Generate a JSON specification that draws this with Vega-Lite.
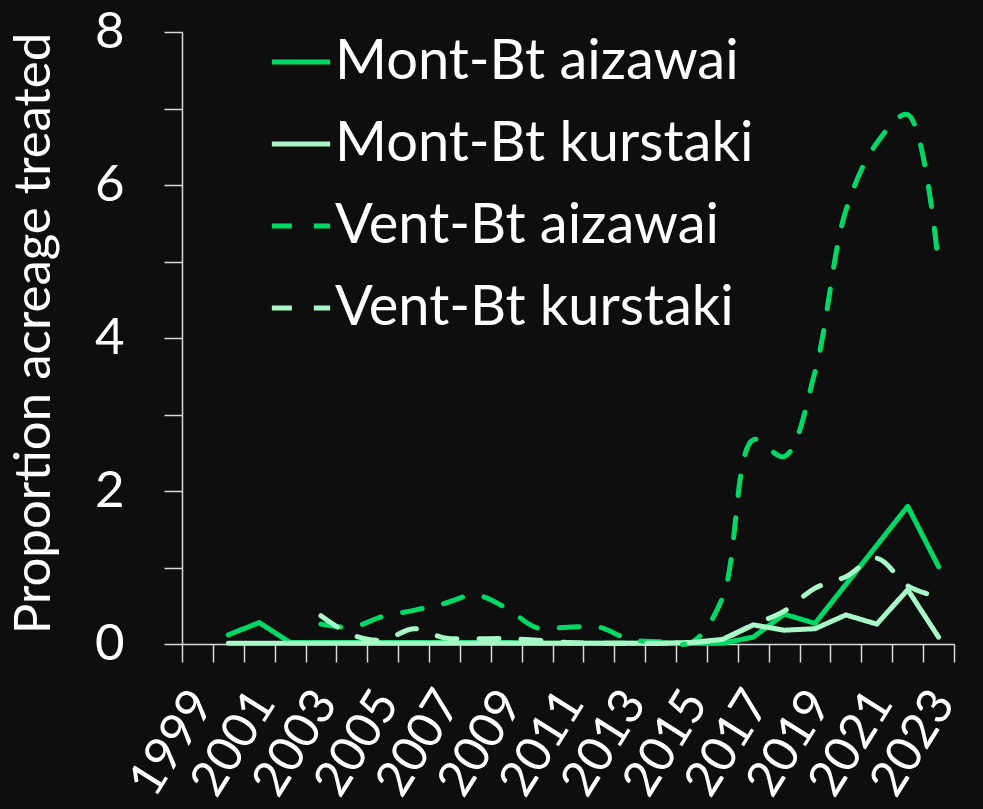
{
  "$schema": "https://vega.github.io/schema/vega-lite/v6.json",
  "width": 772,
  "height": 612,
  "autosize": {"type": "none"},
  "padding": {"left": 182, "top": 32, "right": 29, "bottom": 165},
  "background": "#0e0e0e",
  "config": {"view": {"stroke": null}, "font": "Lato"},
  "data": {
    "values": [
      {"year": 2000, "series": "Mont-Bt aizawai", "value": 0.12},
      {"year": 2001, "series": "Mont-Bt aizawai", "value": 0.28},
      {"year": 2002, "series": "Mont-Bt aizawai", "value": 0.02},
      {"year": 2003, "series": "Mont-Bt aizawai", "value": 0.02},
      {"year": 2004, "series": "Mont-Bt aizawai", "value": 0.02},
      {"year": 2005, "series": "Mont-Bt aizawai", "value": 0.02},
      {"year": 2006, "series": "Mont-Bt aizawai", "value": 0.02},
      {"year": 2007, "series": "Mont-Bt aizawai", "value": 0.02},
      {"year": 2008, "series": "Mont-Bt aizawai", "value": 0.02},
      {"year": 2009, "series": "Mont-Bt aizawai", "value": 0.02},
      {"year": 2010, "series": "Mont-Bt aizawai", "value": 0.01},
      {"year": 2011, "series": "Mont-Bt aizawai", "value": 0.01},
      {"year": 2012, "series": "Mont-Bt aizawai", "value": 0.01},
      {"year": 2013, "series": "Mont-Bt aizawai", "value": 0.01},
      {"year": 2014, "series": "Mont-Bt aizawai", "value": 0.01},
      {"year": 2015, "series": "Mont-Bt aizawai", "value": 0.01},
      {"year": 2016, "series": "Mont-Bt aizawai", "value": 0.01},
      {"year": 2017, "series": "Mont-Bt aizawai", "value": 0.09},
      {"year": 2018, "series": "Mont-Bt aizawai", "value": 0.39},
      {"year": 2019, "series": "Mont-Bt aizawai", "value": 0.27},
      {"year": 2020, "series": "Mont-Bt aizawai", "value": 0.78},
      {"year": 2021, "series": "Mont-Bt aizawai", "value": 1.29},
      {"year": 2022, "series": "Mont-Bt aizawai", "value": 1.8},
      {"year": 2023, "series": "Mont-Bt aizawai", "value": 1.01},
      {"year": 2000, "series": "Mont-Bt kurstaki", "value": 0.01},
      {"year": 2001, "series": "Mont-Bt kurstaki", "value": 0.01},
      {"year": 2002, "series": "Mont-Bt kurstaki", "value": 0.01},
      {"year": 2003, "series": "Mont-Bt kurstaki", "value": 0.01},
      {"year": 2004, "series": "Mont-Bt kurstaki", "value": 0.01},
      {"year": 2005, "series": "Mont-Bt kurstaki", "value": 0.01},
      {"year": 2006, "series": "Mont-Bt kurstaki", "value": 0.01},
      {"year": 2007, "series": "Mont-Bt kurstaki", "value": 0.01},
      {"year": 2008, "series": "Mont-Bt kurstaki", "value": 0.01},
      {"year": 2009, "series": "Mont-Bt kurstaki", "value": 0.01},
      {"year": 2010, "series": "Mont-Bt kurstaki", "value": 0.01},
      {"year": 2011, "series": "Mont-Bt kurstaki", "value": 0.01},
      {"year": 2012, "series": "Mont-Bt kurstaki", "value": 0.01},
      {"year": 2013, "series": "Mont-Bt kurstaki", "value": 0.01},
      {"year": 2014, "series": "Mont-Bt kurstaki", "value": 0.01},
      {"year": 2015, "series": "Mont-Bt kurstaki", "value": 0.02},
      {"year": 2016, "series": "Mont-Bt kurstaki", "value": 0.06},
      {"year": 2017, "series": "Mont-Bt kurstaki", "value": 0.25},
      {"year": 2018, "series": "Mont-Bt kurstaki", "value": 0.18},
      {"year": 2019, "series": "Mont-Bt kurstaki", "value": 0.2},
      {"year": 2020, "series": "Mont-Bt kurstaki", "value": 0.38},
      {"year": 2021, "series": "Mont-Bt kurstaki", "value": 0.26},
      {"year": 2022, "series": "Mont-Bt kurstaki", "value": 0.71},
      {"year": 2023, "series": "Mont-Bt kurstaki", "value": 0.09},
      {"year": 2003, "series": "Vent-Bt aizawai", "value": 0.26},
      {"year": 2004, "series": "Vent-Bt aizawai", "value": 0.22},
      {"year": 2005, "series": "Vent-Bt aizawai", "value": 0.36},
      {"year": 2006, "series": "Vent-Bt aizawai", "value": 0.44},
      {"year": 2007, "series": "Vent-Bt aizawai", "value": 0.53},
      {"year": 2008, "series": "Vent-Bt aizawai", "value": 0.64},
      {"year": 2009, "series": "Vent-Bt aizawai", "value": 0.47},
      {"year": 2010, "series": "Vent-Bt aizawai", "value": 0.21},
      {"year": 2011, "series": "Vent-Bt aizawai", "value": 0.22},
      {"year": 2012, "series": "Vent-Bt aizawai", "value": 0.22},
      {"year": 2013, "series": "Vent-Bt aizawai", "value": 0.06},
      {"year": 2014, "series": "Vent-Bt aizawai", "value": 0.03},
      {"year": 2015, "series": "Vent-Bt aizawai", "value": 0.02},
      {"year": 2016, "series": "Vent-Bt aizawai", "value": 0.6},
      {"year": 2017, "series": "Vent-Bt aizawai", "value": 2.67},
      {"year": 2018, "series": "Vent-Bt aizawai", "value": 2.45},
      {"year": 2019, "series": "Vent-Bt aizawai", "value": 3.56},
      {"year": 2020, "series": "Vent-Bt aizawai", "value": 5.67},
      {"year": 2021, "series": "Vent-Bt aizawai", "value": 6.55},
      {"year": 2022, "series": "Vent-Bt aizawai", "value": 6.92},
      {"year": 2023, "series": "Vent-Bt aizawai", "value": 4.95},
      {"year": 2003, "series": "Vent-Bt kurstaki", "value": 0.37},
      {"year": 2004, "series": "Vent-Bt kurstaki", "value": 0.12},
      {"year": 2005, "series": "Vent-Bt kurstaki", "value": 0.05},
      {"year": 2006, "series": "Vent-Bt kurstaki", "value": 0.2},
      {"year": 2007, "series": "Vent-Bt kurstaki", "value": 0.08},
      {"year": 2008, "series": "Vent-Bt kurstaki", "value": 0.07},
      {"year": 2009, "series": "Vent-Bt kurstaki", "value": 0.07},
      {"year": 2010, "series": "Vent-Bt kurstaki", "value": 0.05},
      {"year": 2011, "series": "Vent-Bt kurstaki", "value": 0.02},
      {"year": 2012, "series": "Vent-Bt kurstaki", "value": 0.01},
      {"year": 2013, "series": "Vent-Bt kurstaki", "value": 0.01},
      {"year": 2014, "series": "Vent-Bt kurstaki", "value": 0.01},
      {"year": 2015, "series": "Vent-Bt kurstaki", "value": 0.02},
      {"year": 2016, "series": "Vent-Bt kurstaki", "value": 0.07},
      {"year": 2017, "series": "Vent-Bt kurstaki", "value": 0.25},
      {"year": 2018, "series": "Vent-Bt kurstaki", "value": 0.43},
      {"year": 2019, "series": "Vent-Bt kurstaki", "value": 0.73},
      {"year": 2020, "series": "Vent-Bt kurstaki", "value": 0.88},
      {"year": 2021, "series": "Vent-Bt kurstaki", "value": 1.12},
      {"year": 2022, "series": "Vent-Bt kurstaki", "value": 0.76},
      {"year": 2023, "series": "Vent-Bt kurstaki", "value": 0.61}
    ]
  },
  "encoding": {
    "x": {
      "field": "year",
      "type": "ordinal",
      "scale": {
        "type": "band",
        "domain": [1999, 2000, 2001, 2002, 2003, 2004, 2005, 2006, 2007, 2008, 2009, 2010, 2011, 2012, 2013, 2014, 2015, 2016, 2017, 2018, 2019, 2020, 2021, 2022, 2023],
        "paddingInner": 0,
        "paddingOuter": 0
      },
      "axis": {
        "title": null,
        "tickBand": "extent",
        "tickSize": 18,
        "tickWidth": 1.5,
        "tickColor": "#d9d9d9",
        "domainColor": "#d9d9d9",
        "domainWidth": 1.5,
        "labelExpr": "datum.value % 2 == 1 ? datum.label : ''",
        "labelAngle": -58,
        "labelAlign": "right",
        "labelBaseline": "top",
        "labelFontSize": 49,
        "labelColor": "#ffffff",
        "labelOffset": -16,
        "labelPadding": 20,
        "labelOverlap": false,
        "labelFlush": false
      }
    },
    "y": {
      "field": "value",
      "type": "quantitative",
      "scale": {"domain": [0, 8], "nice": false},
      "axis": {
        "title": "Proportion acreage treated",
        "values": [0, 1, 2, 3, 4, 5, 6, 7, 8],
        "labelExpr": "datum.value % 2 == 0 ? datum.label : ''",
        "grid": false,
        "tickSize": 18,
        "tickWidth": 1.5,
        "tickColor": "#d9d9d9",
        "domainColor": "#d9d9d9",
        "domainWidth": 1.5,
        "labelFontSize": 51,
        "labelColor": "#ffffff",
        "labelPadding": 40,
        "labelBaseline": "middle",
        "titleColor": "#ffffff",
        "titleFontSize": 51,
        "titleFontWeight": "normal",
        "titleAngle": -90,
        "titleAlign": "center",
        "titleBaseline": "alphabetic",
        "titleX": -133,
        "titleY": 301
      }
    },
    "color": {
      "field": "series",
      "type": "nominal",
      "scale": {
        "domain": ["Mont-Bt aizawai", "Mont-Bt kurstaki", "Vent-Bt aizawai", "Vent-Bt kurstaki"],
        "range": ["#00d966", "#a8f7c6", "#00d966", "#a8f7c6"]
      },
      "legend": {
        "title": null,
        "orient": "none",
        "legendX": 87,
        "legendY": -2,
        "padding": 0,
        "symbolType": "stroke",
        "symbolSize": 3400,
        "symbolStrokeWidth": 5,
        "labelFontSize": 56,
        "labelColor": "#ffffff",
        "labelOffset": 2,
        "rowPadding": 22,
        "labelLimit": 600
      }
    },
    "strokeDash": {
      "field": "series",
      "type": "nominal",
      "scale": {
        "domain": ["Mont-Bt aizawai", "Mont-Bt kurstaki", "Vent-Bt aizawai", "Vent-Bt kurstaki"],
        "range": [[1, 0], [1, 0], [20, 22], [20, 22]]
      },
      "legend": {
        "title": null,
        "orient": "none",
        "legendX": 87,
        "legendY": -2,
        "padding": 0,
        "symbolType": "stroke",
        "symbolSize": 3400,
        "symbolStrokeWidth": 5,
        "labelFontSize": 56,
        "labelColor": "#ffffff",
        "labelOffset": 2,
        "rowPadding": 22,
        "labelLimit": 600
      }
    }
  },
  "layer": [
    {
      "transform": [{"filter": "indexof(datum.series, 'Mont') == 0"}],
      "mark": {"type": "line", "strokeWidth": 5, "strokeCap": "round", "strokeJoin": "round"}
    },
    {
      "transform": [{"filter": "indexof(datum.series, 'Vent') == 0"}],
      "mark": {"type": "line", "interpolate": "catmull-rom", "strokeWidth": 5, "strokeCap": "round", "strokeJoin": "round"}
    }
  ]
}
